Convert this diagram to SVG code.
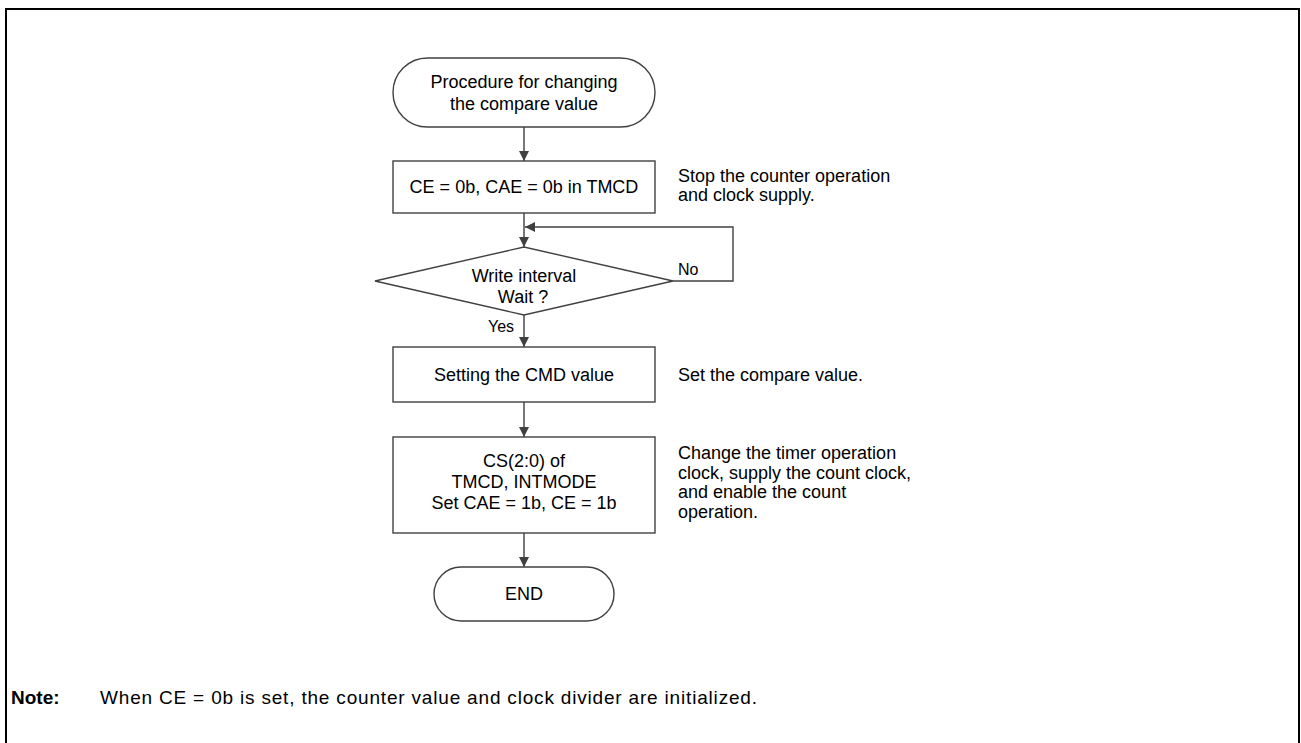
<svg xmlns="http://www.w3.org/2000/svg" width="1301" height="743" viewBox="0 0 1301 743">
<defs>
<style>
.shape{fill:#fff;stroke:#404040;stroke-width:1.4}
.line{fill:none;stroke:#404040;stroke-width:1.4}
text{font-family:"Liberation Sans",Arial,sans-serif;font-size:18px;fill:#000}
.c{text-anchor:middle}
.lbl{font-size:16px}
.note{font-size:19px}
</style>
<marker id="arr" viewBox="0 0 10 10" refX="10" refY="5" markerWidth="10" markerHeight="10" markerUnits="userSpaceOnUse" orient="auto">
<path d="M0,0 L10,5 L0,10 z" fill="#404040"/>
</marker>
</defs>
<rect x="6" y="9" width="1293" height="760" fill="#fff" stroke="#000" stroke-width="2"/>
<g id="connectors">
<path class="line" d="M524,127 V161" marker-end="url(#arr)"/>
<path class="line" d="M524,213 V247" marker-end="url(#arr)"/>
<path class="line" d="M673,281 H733 V227 H525" marker-end="url(#arr)"/>
<path class="line" d="M524,315 V347" marker-end="url(#arr)"/>
<path class="line" d="M524,402 V437" marker-end="url(#arr)"/>
<path class="line" d="M524,533 V567" marker-end="url(#arr)"/>
<text class="lbl" x="678" y="275">No</text>
<text class="lbl" x="488" y="332">Yes</text>
</g>
<g id="start">
<rect class="shape" x="393" y="58" width="262" height="69" rx="34.5"/>
<text class="c" x="524" y="88">Procedure for changing</text>
<text class="c" x="524" y="110">the compare value</text>
</g>
<g id="step1">
<rect class="shape" x="393" y="161" width="262" height="52"/>
<text class="c" x="524" y="193">CE = 0b, CAE = 0b in TMCD</text>
<text x="678" y="182">Stop the counter operation</text>
<text x="678" y="201">and clock supply.</text>
</g>
<g id="decision">
<path class="shape" d="M375,281 L524,247 L673,281 L524,315 Z"/>
<text class="c" x="524" y="282">Write interval</text>
<text class="c" x="523" y="303">Wait ?</text>
</g>
<g id="step2">
<rect class="shape" x="393" y="347" width="262" height="55"/>
<text class="c" x="524" y="381">Setting the CMD value</text>
<text x="678" y="381">Set the compare value.</text>
</g>
<g id="step3">
<rect class="shape" x="393" y="437" width="262" height="96"/>
<text class="c" x="524" y="467">CS(2:0) of</text>
<text class="c" x="524" y="488">TMCD, INTMODE</text>
<text class="c" x="524" y="509">Set CAE = 1b, CE = 1b</text>
<text x="678" y="459">Change the timer operation</text>
<text x="678" y="479">clock, supply the count clock,</text>
<text x="678" y="498">and enable the count</text>
<text x="678" y="518">operation.</text>
</g>
<g id="end">
<rect class="shape" x="434" y="567" width="180" height="54" rx="27"/>
<text class="c" x="524" y="600">END</text>
</g>
<g id="note">
<text class="note" x="11" y="704" font-weight="bold">Note:</text>
<text class="note" x="100" y="704" textLength="657">When CE = 0b is set, the counter value and clock divider are initialized.</text>
</g>
</svg>
